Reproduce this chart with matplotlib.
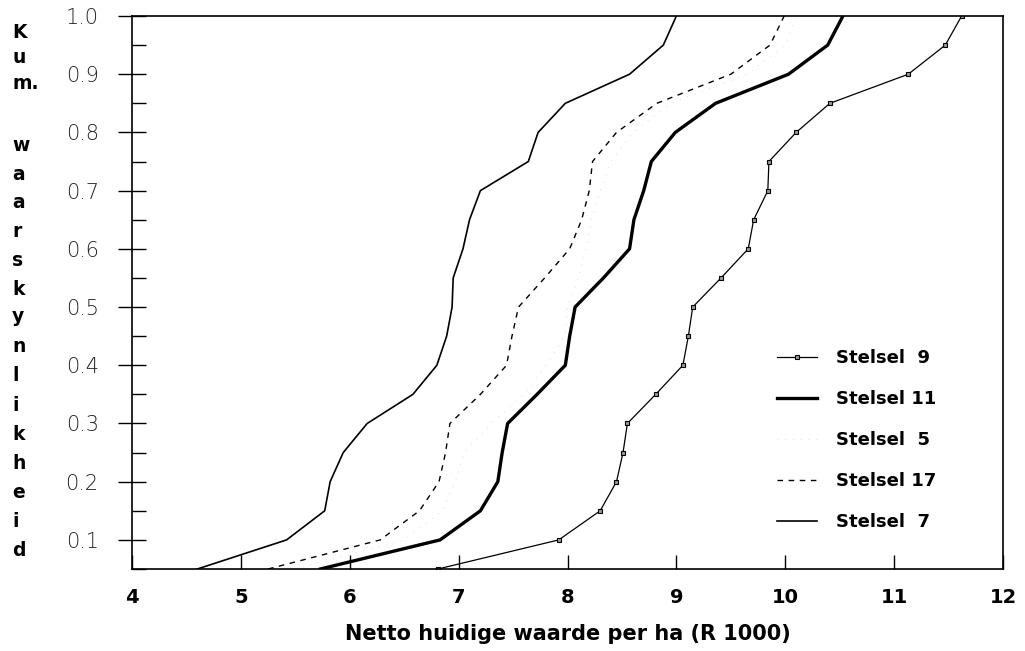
import matplotlib
matplotlib.use("Agg")
import matplotlib.pyplot as plt
from matplotlib.ticker import MultipleLocator

# Cumulative probability levels
prob = [0.05, 0.10, 0.15, 0.20, 0.25, 0.30, 0.35, 0.40, 0.45, 0.50,
        0.55, 0.60, 0.65, 0.70, 0.75, 0.80, 0.85, 0.90, 0.95, 1.00]

# Net present value per ha (R 1000) for each system
stelsel_9 = [6.81, 7.92, 8.30, 8.45, 8.51, 8.55, 8.81, 9.06, 9.11, 9.15,
             9.41, 9.66, 9.71, 9.84, 9.85, 10.10, 10.41, 11.13, 11.47, 11.62]
stelsel_11 = [5.73, 6.83, 7.20, 7.36, 7.40, 7.45, 7.72, 7.98, 8.02, 8.07,
              8.33, 8.57, 8.61, 8.70, 8.77, 8.99, 9.36, 10.03, 10.39, 10.53]
stelsel_5 = [5.50, 6.50, 6.85, 6.97, 7.05, 7.30, 7.60, 7.80, 7.98, 8.00,
             8.10, 8.17, 8.22, 8.30, 8.40, 8.60, 8.95, 9.65, 10.00, 10.10]
stelsel_17 = [5.25, 6.28, 6.64, 6.82, 6.88, 6.92, 7.20, 7.44, 7.49, 7.55,
              7.79, 8.02, 8.13, 8.20, 8.23, 8.45, 8.82, 9.50, 9.86, 9.99]
stelsel_7 = [4.60, 5.42, 5.77, 5.82, 5.94, 6.16, 6.58, 6.80, 6.89, 6.94,
             6.95, 7.04, 7.10, 7.20, 7.64, 7.73, 7.98, 8.57, 8.88, 9.00]

labels = ["Stelsel  9", "Stelsel 11", "Stelsel  5", "Stelsel 17", "Stelsel  7"]
x_ticks = [4, 5, 6, 7, 8, 9, 10, 11, 12]
y_ticks = [0.1, 0.2, 0.3, 0.4, 0.5, 0.6, 0.7, 0.8, 0.9, 1.0]
x_label = "Netto huidige waarde per ha (R 1000)"
y_label_letters = ["K", "u", "m.", "w", "a", "a", "r", "s", "k", "y", "n",
                   "l", "i", "k", "h", "e", "i", "d"]

W, H = 1025, 651
fig = plt.figure(figsize=(W / 100, H / 100), dpi=100)
ax = fig.add_axes([132 / W, 1 - 569 / H, (1003 - 132) / W, (569 - 16) / H])

bold = dict(family="DejaVu Sans", fontweight="bold")

l9, = ax.plot(stelsel_9, prob, color="black", lw=0.9, marker="s", ms=3.5,
              mfc="#999999", mec="black", mew=0.8)
l11, = ax.plot(stelsel_11, prob, color="black", lw=2.4)
l5, = ax.plot(stelsel_5, prob, color="#e4e4e4", lw=0.8, ls=(0, (1, 6)))
l17, = ax.plot(stelsel_17, prob, color="black", lw=1.0, ls=(0, (4, 4)))
l7, = ax.plot(stelsel_7, prob, color="black", lw=1.2)

ax.set_xlim(4, 12)
ax.set_ylim(0.05, 1.0)
ax.set_xticks(x_ticks)
ax.set_xticklabels([str(v) for v in x_ticks], fontsize=14, **bold)
ax.set_yticks(y_ticks)
ax.set_yticklabels([f"{v:.1f}" for v in y_ticks], fontsize=15,
                   family="DejaVu Sans", fontweight="light", color="#222222")
ax.yaxis.set_minor_locator(MultipleLocator(0.05))
ax.tick_params(axis="x", direction="in", length=10, width=1, pad=14)
ax.tick_params(axis="y", which="major", direction="inout", length=20, width=1, pad=14)
ax.tick_params(axis="y", which="minor", direction="in", length=10, width=1)
for s in ax.spines.values():
    s.set_linewidth(1.2)

ax.set_xlabel(x_label, fontsize=15, labelpad=12, **bold)

# vertical stacked y label
baselines = [38, 63, 89, 151, 180, 208, 237, 266, 295, 322, 352, 381, 411,
             440, 469, 498, 527, 556]
for ch, yb in zip(y_label_letters, baselines):
    fig.text(12 / W, 1 - yb / H, ch, fontsize=13.5, ha="left", va="baseline", **bold)

leg = ax.legend([l9, l11, l5, l17, l7], labels, frameon=False,
                loc="upper left", bbox_to_anchor=(777 / W, 1 - 349 / H),
                bbox_transform=fig.transFigure, borderpad=0, borderaxespad=0,
                handlelength=2.2, handletextpad=1.05, labelspacing=1.28,
                prop=dict(family="DejaVu Sans", weight="bold", size=13))

fig.savefig("out.png", dpi=100)
